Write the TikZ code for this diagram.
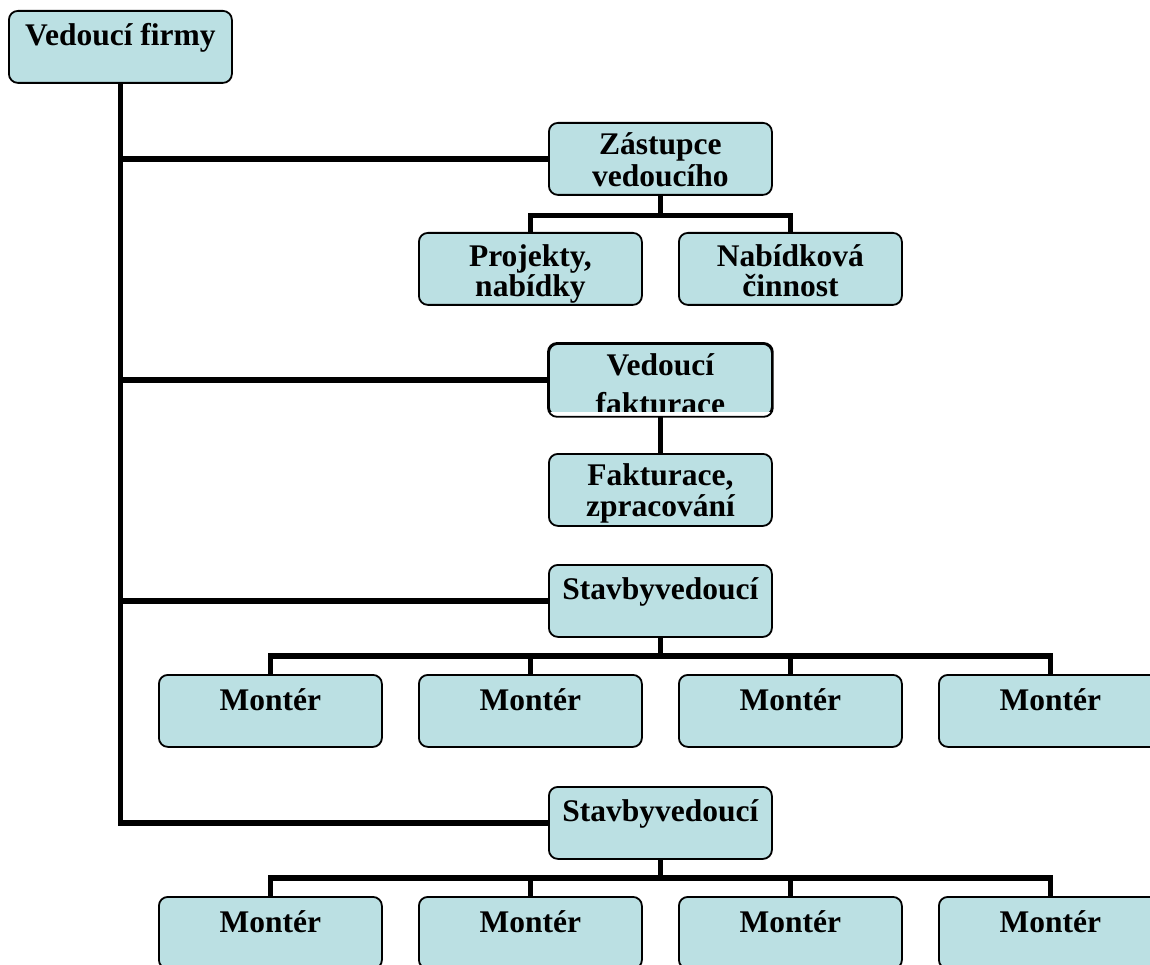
\documentclass[tikz,border=0pt]{standalone}
\usepackage{fontspec}
\setmainfont{Liberation Serif}
\usetikzlibrary{calc}
\definecolor{boxblue}{RGB}{187,224,227}
\newcommand{\bx}[2][34]{\parbox[b][72pt][t]{223pt}{\centering\rule{0pt}{#1pt}#2}}
\newcommand{\nl}[1]{\\[-\dimexpr 33pt-#1pt\relax]}
\tikzset{
  box/.style={draw=black, line width=1.8pt, fill=boxblue, rounded corners=9pt,
    inner sep=0pt, anchor=north west, font=\fontsize{31.5}{33}\selectfont\bfseries},
  conn/.style={draw=black, line width=5.5pt, line join=miter}
}
\begin{document}
\begin{tikzpicture}[x=1pt,y=-1pt]
\useasboundingbox (0,0) rectangle (1150,965);
\clip (0,0) rectangle (1150,965);
% boxes
\node[box] (vf) at (8,10) {\bx[35]{Vedoucí firmy}};
\node[box] (zs) at (548,122) {\bx[32]{Zástupce\nl{32}vedoucího}};
\node[box] (pr) at (418,232) {\bx[34]{Projekty,\nl{30}nabídky}};
\node[box] (nb) at (678,232) {\bx[34]{Nabídková\nl{30}činnost}};
\begin{scope}
\clip (540,335) rectangle (780,411);
\node[box] (vfk) at (548,343) {\bx[32]{Vedoucí\nl{39}fakturace}};
\end{scope}
\draw[black, line width=1.8pt, rounded corners=9pt] (vfk.north west) rectangle (vfk.south east);
\node[box] (fk) at (548,453) {\bx[32]{Fakturace,\nl{31}zpracování}};
\node[box] (sa) at (548,564) {\bx[35]{Stavbyvedoucí}};
\node[box] (ma1) at (158,674) {\bx[36]{Montér}};
\node[box] (ma2) at (418,674) {\bx[36]{Montér}};
\node[box] (ma3) at (678,674) {\bx[36]{Montér}};
\node[box] (ma4) at (938,674) {\bx[36]{Montér}};
\node[box] (sb) at (548,786) {\bx[35]{Stavbyvedoucí}};
\node[box] (mb1) at (158,896) {\bx[36]{Montér}};
\node[box] (mb2) at (418,896) {\bx[36]{Montér}};
\node[box] (mb3) at (678,896) {\bx[36]{Montér}};
\node[box] (mb4) at (938,896) {\bx[36]{Montér}};
% connectors
\draw[conn] (vf.south) |- (sb.west);
\draw[conn] (vf.south |- zs.west) -- (zs.west);
\draw[conn] (vf.south |- vfk.west) -- (vfk.west);
\draw[conn] (vf.south |- sa.west) -- (sa.west);
\coordinate (zb) at ($(zs.south)+(0,19.5)$);
\draw[conn] (zs.south) -- (zb);
\draw[conn] (pr.north) |- (zb) -| (nb.north);
\draw[conn] (vfk.south) -- (fk.north);
\coordinate (ab) at ($(sa.south)+(0,18)$);
\draw[conn] (sa.south) -- (ab);
\draw[conn] (ma1.north) |- (ab) -| (ma4.north);
\draw[conn] (ma2.north) -- (ma2.north |- ab);
\draw[conn] (ma3.north) -- (ma3.north |- ab);
\coordinate (bb) at ($(sb.south)+(0,18)$);
\draw[conn] (sb.south) -- (bb);
\draw[conn] (mb1.north) |- (bb) -| (mb4.north);
\draw[conn] (mb2.north) -- (mb2.north |- bb);
\draw[conn] (mb3.north) -- (mb3.north |- bb);
\end{tikzpicture}
\end{document}
